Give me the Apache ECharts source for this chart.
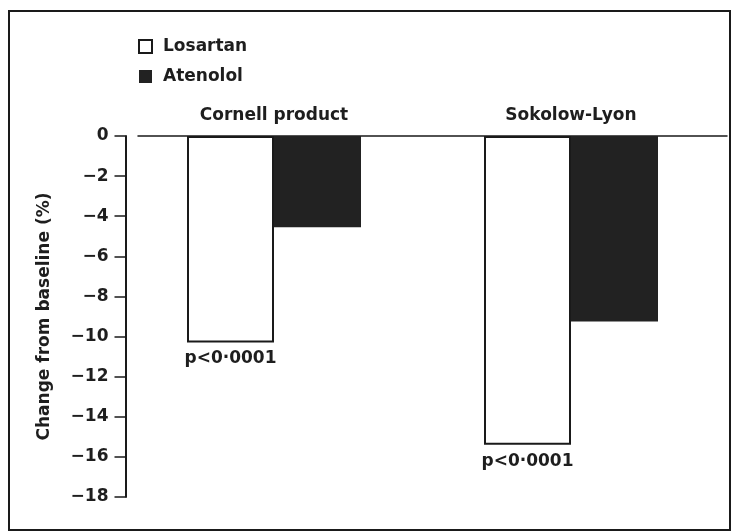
<!DOCTYPE html>
<html><head><meta charset="utf-8">
<script src="https://cdn.jsdelivr.net/npm/echarts@6/dist/echarts.min.js"></script>
<style>html,body{margin:0;padding:0;background:#fff}#c{width:738px;height:531px}</style>
</head><body><div id="c"></div>
<script>
const categories = ["Cornell product", "Sokolow-Lyon"];
const losartan = [-10.3, -15.4];
const atenolol = [-4.55, -9.25];
const pLabels = ["p<0·0001", "p<0·0001"];
const yTicks = [0, -2, -4, -6, -8, -10, -12, -14, -16, -18];
const yName = "Change from baseline (%)";

const FONT = "DejaVu Sans";
const TXT = { fontFamily: FONT, fontSize: 17, fontWeight: 'bold', color: '#1e1e1e' };
const chart = echarts.init(document.getElementById('c'));
chart.setOption({
  animation: false,
  backgroundColor: '#fff',
  textStyle: { fontFamily: FONT, color: '#1e1e1e' },
  graphic: [{
    type: 'rect', shape: { x: 9, y: 11, width: 721, height: 519 },
    style: { fill: 'none', stroke: '#1a1a1a', lineWidth: 2 }, z: -1
  }],
  legend: {
    orient: 'vertical', left: 133, top: 33, itemWidth: 13, itemHeight: 13, itemGap: 13,
    icon: 'rect',
    textStyle: Object.assign({}, TXT, { padding: [0, 0, 0, 6] }),
    data: ['Losartan', 'Atenolol']
  },
  grid: [
    { left: 125.5, right: 18.5, top: 136, bottom: 34 },
    { left: 138, right: 11, top: 136, bottom: 34 }
  ],
  xAxis: [{
    type: 'category', data: categories, gridIndex: 0, position: 'top',
    axisLine: { show: false }, axisTick: { show: false },
    axisLabel: Object.assign({}, TXT, { margin: 12 })
  }, {
    type: 'value', gridIndex: 1, position: 'top', min: 0, max: 1,
    axisLine: { show: true, lineStyle: { color: '#1a1a1a', width: 1.5 } },
    axisTick: { show: false }, axisLabel: { show: false }, splitLine: { show: false }
  }],
  yAxis: [{
    type: 'value', gridIndex: 0, min: yTicks[yTicks.length - 1], max: yTicks[0], interval: 2,
    name: yName, nameLocation: 'middle', nameGap: 72,
    nameTextStyle: TXT,
    axisLine: { show: true, lineStyle: { color: '#1a1a1a', width: 2 } },
    axisTick: { show: true, length: 11, lineStyle: { color: '#1a1a1a', width: 1.5 } },
    axisLabel: Object.assign({}, TXT, { margin: 17,
      formatter: v => (v < 0 ? '\u2212' + Math.abs(v) : String(v)) }),
    splitLine: { show: false }
  }, {
    type: 'value', gridIndex: 1, min: -18, max: 0, show: false
  }],
  series: [{
    name: 'Losartan', type: 'bar', data: losartan, barWidth: 87, barGap: '0%',
    itemStyle: { color: '#fff', borderColor: '#1a1a1a', borderWidth: 2 },
    label: Object.assign({ show: true, position: 'bottom', distance: 8,
      formatter: p => pLabels[p.dataIndex] }, TXT)
  }, {
    name: 'Atenolol', type: 'bar', data: atenolol, barWidth: 87,
    itemStyle: { color: '#222', borderColor: '#222', borderWidth: 0 }
  }]
});
</script></body></html>
